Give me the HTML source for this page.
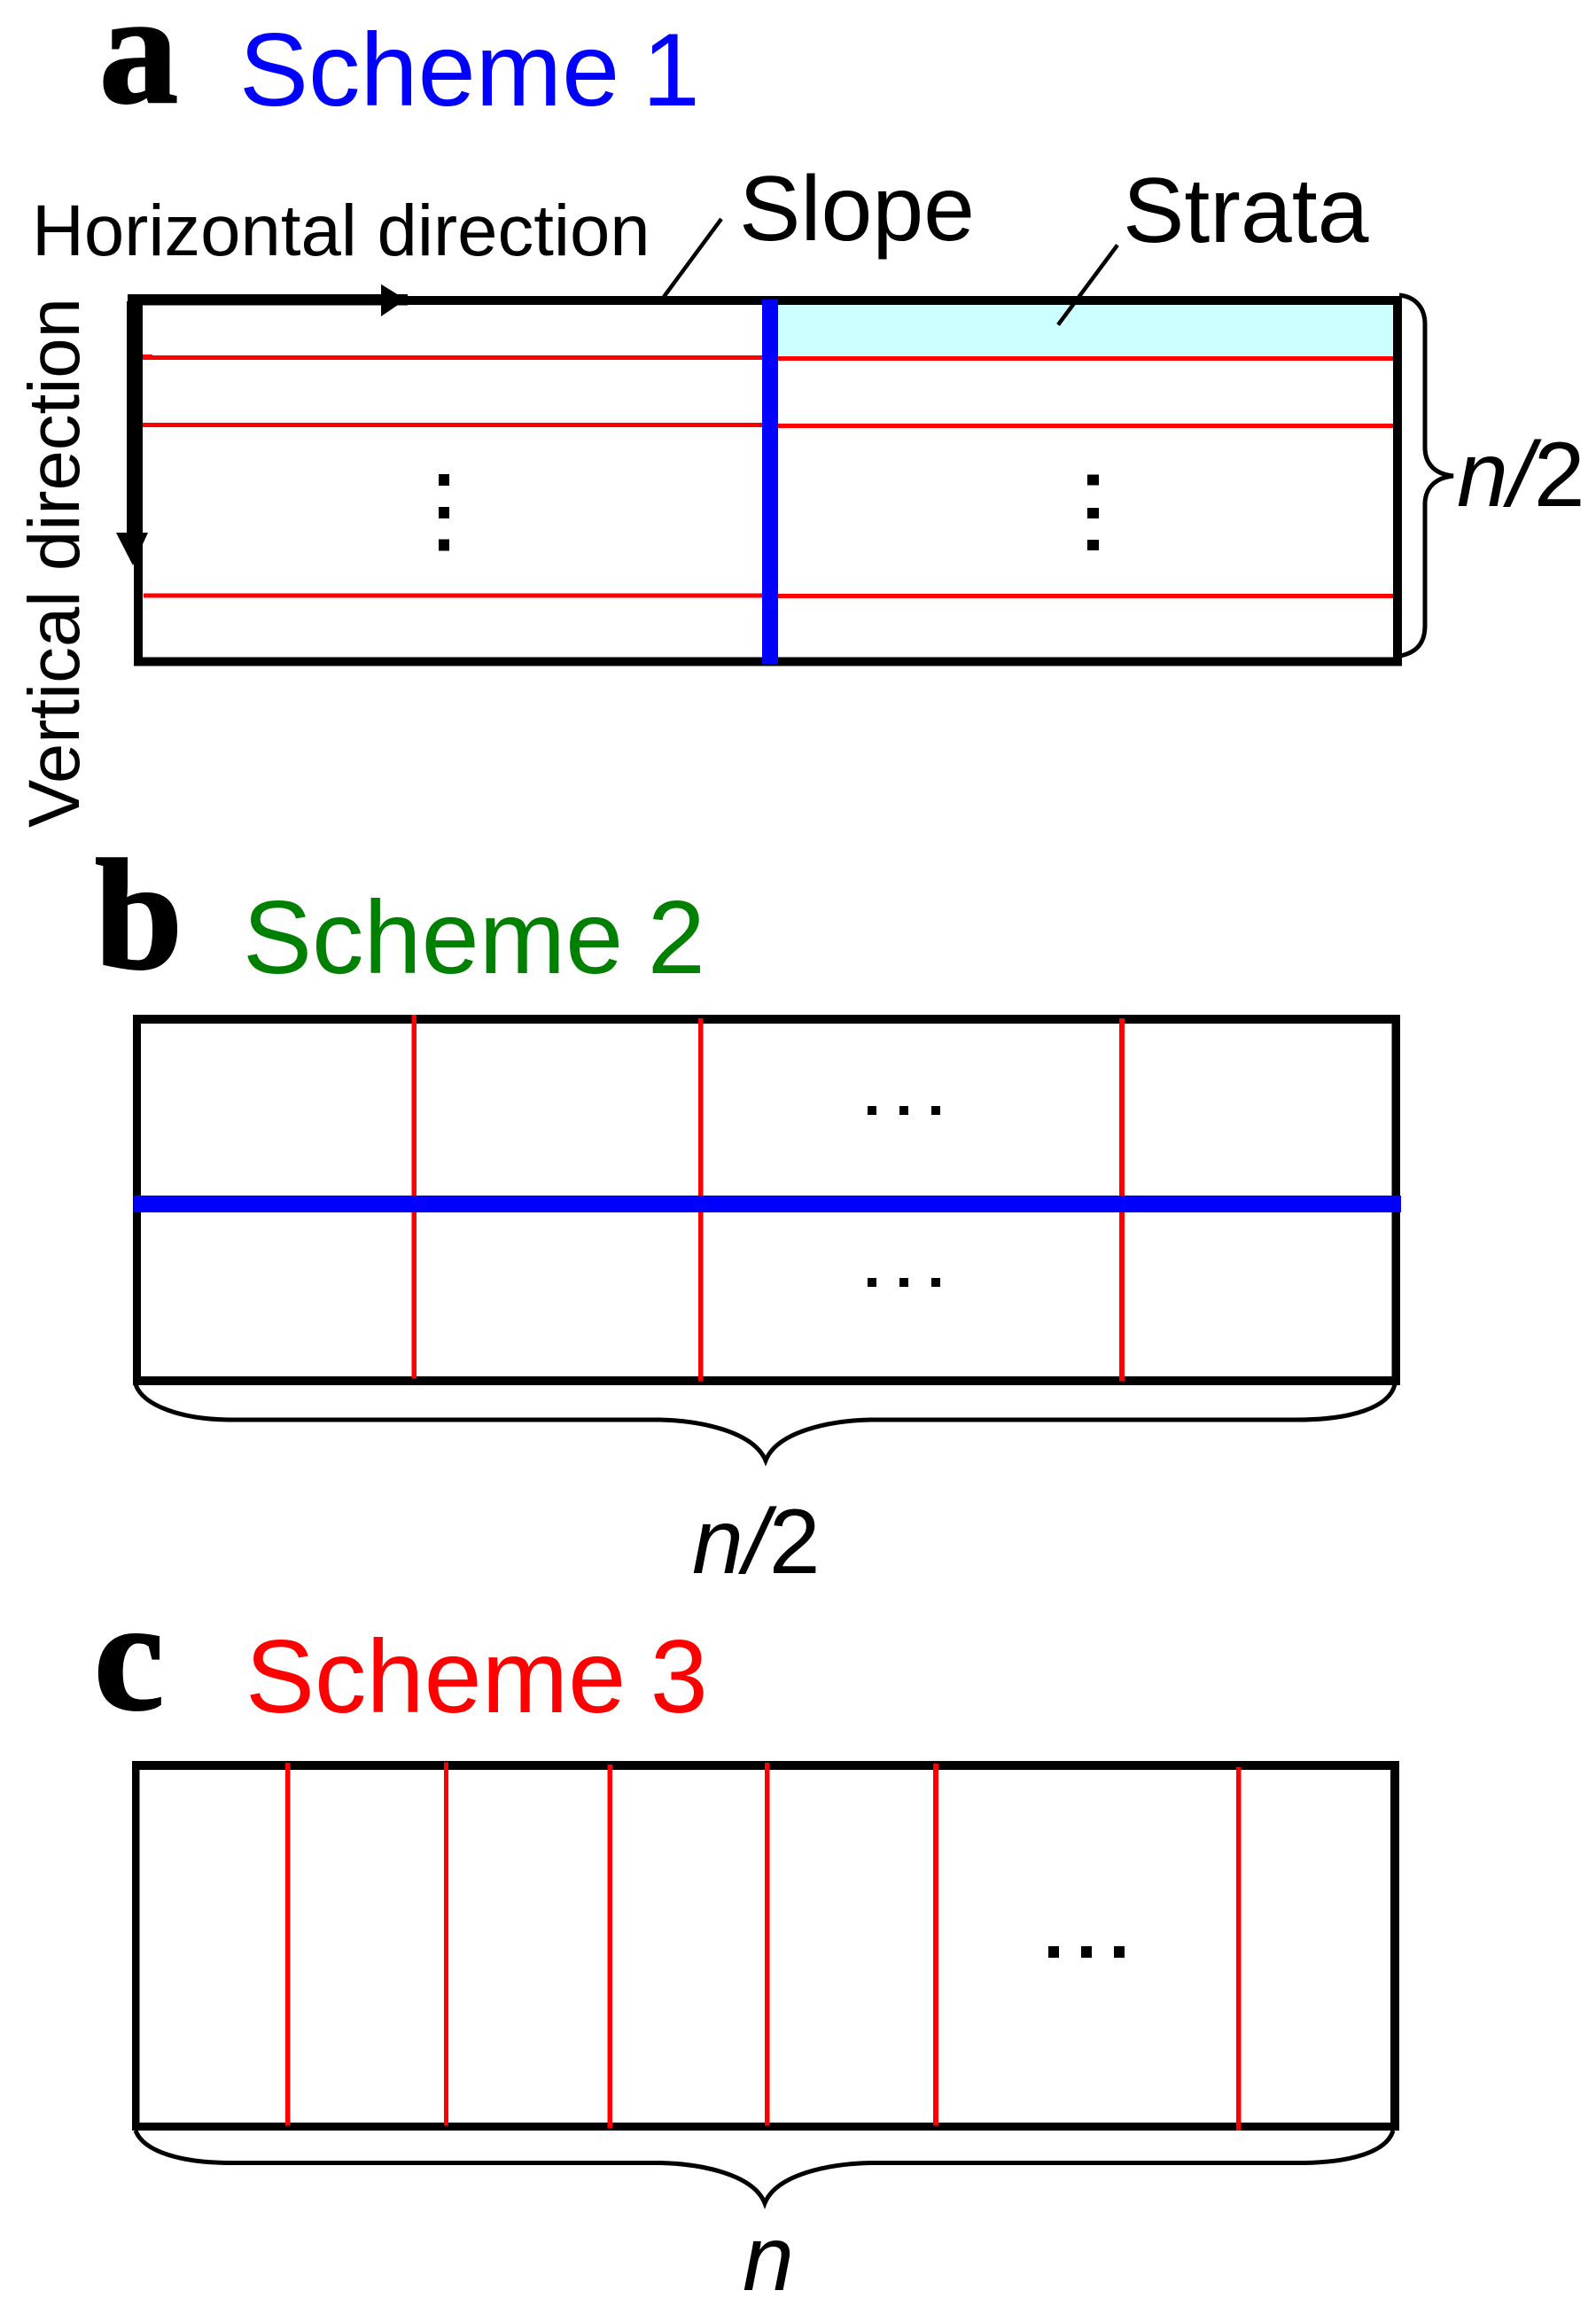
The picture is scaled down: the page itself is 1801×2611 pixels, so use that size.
<!DOCTYPE html>
<html>
<head>
<meta charset="utf-8">
<style>
html,body{margin:0;padding:0;background:#fff;width:1801px;height:2611px;overflow:hidden}
svg{display:block}
text{font-family:"Liberation Sans",Arial,sans-serif}
.ser{font-family:"Liberation Serif","Times New Roman",serif;font-weight:bold;font-size:178px;fill:#000;stroke:#000;stroke-width:2.5px}
.sch{font-size:117px}
.lab{font-size:104px;fill:#000}
.dir{font-size:81.5px;fill:#000}
.brace{fill:none;stroke:#000;stroke-width:5px}
</style>
</head>
<body>
<svg width="1801" height="2611" viewBox="0 0 1801 2611" xmlns="http://www.w3.org/2000/svg">
<rect width="1801" height="2611" fill="#fff"/>

<!-- Panel a -->
<text class="ser" x="112" y="115">a</text>
<text class="sch" x="270" y="119" fill="#0000ff">Scheme<tspan dx="-7"> 1</tspan></text>
<text class="dir" x="36" y="288">Horizontal direction</text>
<text class="lab" x="834" y="271">Slope</text>
<text class="lab" x="1267" y="273">Strata</text>
<text class="dir" transform="translate(89,934) rotate(-90)">Vertical direction</text>

<rect x="878" y="344" width="694" height="60" fill="#ccffff"/>

<g fill="#ff0000">
<rect x="155" y="401" width="705" height="5"/>
<rect x="155" y="400" width="17" height="6"/>
<rect x="878" y="402" width="698" height="5"/>
<rect x="160" y="477" width="700" height="5"/>
<rect x="878" y="478" width="699" height="5"/>
<rect x="162" y="669.500" width="698" height="5"/>
<rect x="878" y="670" width="701" height="5"/>
</g>

<g fill="#000">
<rect x="151" y="334" width="1431" height="10"/>
<rect x="144" y="332" width="316" height="12.500"/>
<rect x="151" y="741.500" width="1431" height="10"/>
<rect x="151" y="334" width="10" height="417.500"/>
<rect x="143" y="340" width="18" height="273"/>
<rect x="1572" y="334" width="10" height="417.500"/>
<polygon points="430,320.700 458,338 430,357"/>
<polygon points="131,601 167,601 150,638"/>
</g>
<rect x="860" y="338" width="18" height="411" fill="#0000ff"/>

<g stroke="#000" stroke-width="4.500" fill="none">
<line x1="814" y1="247" x2="749" y2="335"/>
<line x1="1261" y1="276.500" x2="1194" y2="366.500"/>
</g>

<g fill="#000">
<rect x="495" y="535" width="12" height="13"/>
<rect x="495" y="572" width="12" height="13"/>
<rect x="495" y="608.500" width="12" height="13"/>
<rect x="1227" y="535.500" width="13" height="12"/>
<rect x="1227" y="573" width="13" height="12"/>
<rect x="1227" y="609" width="13" height="12"/>
</g>

<path class="brace" d="M1579,333 C1598,335 1608,348 1608,366 L1608,505 C1608,522 1618,535 1640,537 C1620,539 1609,550 1608,567 L1608,706 C1608,724 1600,736 1580,740"/>
<text class="lab" x="1644" y="571"><tspan font-style="italic">n/</tspan>2</text>

<!-- Panel b -->
<text class="ser" x="107" y="1092">b</text>
<text class="sch" x="274" y="1098" fill="#008000">Scheme<tspan dx="-5"> 2</tspan></text>

<g fill="#000">
<rect x="150" y="1145" width="1430" height="10"/>
<rect x="150" y="1553" width="1430" height="10"/>
<rect x="150" y="1145" width="9" height="418"/>
<rect x="1570.500" y="1145" width="9.500" height="418"/>
</g>
<g fill="#ff0000">
<rect x="464.500" y="1145" width="5.500" height="410.500"/>
<rect x="788" y="1149" width="5.500" height="409.500"/>
<rect x="1263" y="1149" width="6" height="409.500"/>
</g>
<rect x="150.500" y="1349" width="1430.500" height="19" fill="#0000ff"/>
<g fill="#000">
<rect x="979" y="1248" width="10" height="10"/><rect x="1015" y="1248" width="10" height="10"/><rect x="1051" y="1248" width="10" height="10"/>
<rect x="979" y="1442" width="10" height="10"/><rect x="1015" y="1442" width="10" height="10"/><rect x="1051" y="1442" width="10" height="10"/>
</g>
<path class="brace" d="M153,1562 C161,1586 205,1602 262,1602 L745,1602 C790,1603 850,1615 864,1648 C877,1615 937,1603 982,1602 L1464,1602 C1525,1602 1568,1588 1574,1562"/>
<text class="lab" x="781" y="1775"><tspan font-style="italic">n/</tspan>2</text>

<!-- Panel c -->
<text class="ser" x="106" y="1928">c</text>
<text class="sch" x="277" y="1932" fill="#ff0000">Scheme<tspan dx="-5"> 3</tspan></text>

<g fill="#000">
<rect x="149" y="1987" width="1430" height="10"/>
<rect x="149" y="2395" width="1430" height="9"/>
<rect x="149" y="1987" width="8.500" height="417"/>
<rect x="1569" y="1987" width="10" height="417"/>
</g>
<g fill="#ff0000">
<rect x="322" y="1989" width="5.500" height="409.500"/>
<rect x="501" y="1988.500" width="5" height="410"/>
<rect x="685.500" y="1991" width="5.500" height="410.500"/>
<rect x="863" y="1989" width="5.500" height="409.500"/>
<rect x="1053" y="1990" width="6" height="408.500"/>
<rect x="1395" y="1994" width="5.500" height="410"/>
</g>
<g fill="#000">
<rect x="1183" y="2196" width="12" height="13"/>
<rect x="1220" y="2196" width="12" height="13"/>
<rect x="1257" y="2196" width="12" height="13"/>
</g>
<path class="brace" d="M153,2404 C162,2428 205,2440.500 261,2440.500 L745,2440.500 C790,2441.500 850,2453 863,2486 C876,2453 937,2441.500 982,2440.500 L1464,2440.500 C1525,2440.500 1565,2428 1572,2404"/>
<text class="lab" x="838" y="2584" font-style="italic">n</text>
</svg>
</body>
</html>
